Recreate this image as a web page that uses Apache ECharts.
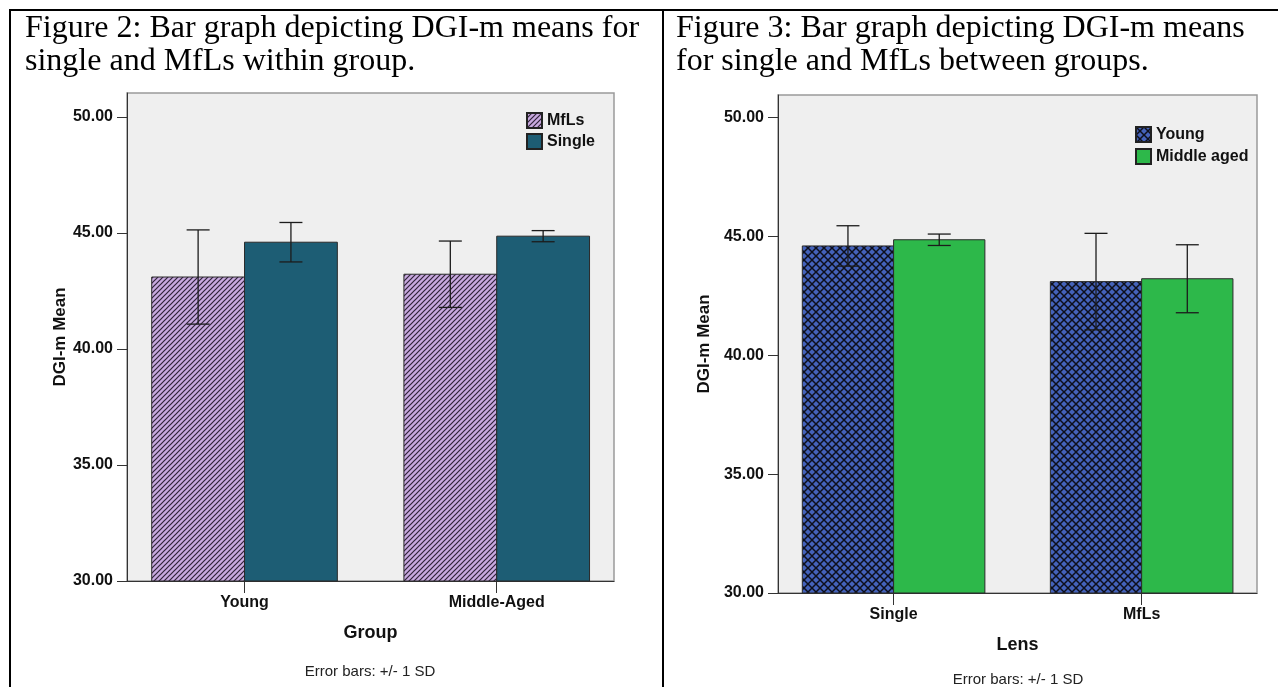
<!DOCTYPE html>
<html>
<head>
<meta charset="utf-8">
<script src="https://cdn.jsdelivr.net/npm/echarts@6/dist/echarts.min.js"></script>
<style>
  html, body { margin: 0; padding: 0; background: #ffffff; }
  #chart { width: 1278px; height: 687px; }
</style>
</head>
<body>
<div id="chart"></div>
<script>
// ---- Data: DGI-m means and standard deviations ----
// Figure 2: lens type within each age group
const groupCategories = ['Young', 'Middle-Aged'];
const mflsMeans   = [43.10, 43.22];
const mflsSD      = [2.03, 1.43];
const singleMeans = [44.60, 44.86];
const singleSD    = [0.85, 0.24];

// Figure 3: age group within each lens type
const lensCategories = ['Single', 'MfLs'];
const youngMeans  = [44.60, 43.10];
const youngSD     = [0.85, 2.03];
const middleMeans = [44.86, 43.22];
const middleSD    = [0.24, 1.43];

const yTicks = [30, 35, 40, 45, 50];
const Y_MIN = 30;

// ---- Fill patterns ----
function stripePattern() {
  const s = 5;
  const c = document.createElement('canvas');
  c.width = s; c.height = s;
  const g = c.getContext('2d');
  g.fillStyle = '#c8a9df';
  g.fillRect(0, 0, s, s);
  g.strokeStyle = '#2f2339';
  g.lineWidth = 1.2;
  g.beginPath();
  g.moveTo(-1, s + 1); g.lineTo(s + 1, -1);
  g.moveTo(-1, 1); g.lineTo(1, -1);
  g.moveTo(s - 1, s + 1); g.lineTo(s + 1, s - 1);
  g.stroke();
  return { image: c, repeat: 'repeat' };
}
function crossPattern() {
  const s = 8;
  const c = document.createElement('canvas');
  c.width = s; c.height = s;
  const g = c.getContext('2d');
  g.fillStyle = '#4462ba';
  g.fillRect(0, 0, s, s);
  g.strokeStyle = '#0d0f1c';
  g.lineWidth = 1.5;
  g.beginPath();
  g.moveTo(0, 0); g.lineTo(s, s);
  g.moveTo(0, s); g.lineTo(s, 0);
  g.stroke();
  return { image: c, repeat: 'repeat' };
}

const FILL_MFLS   = stripePattern();
const FILL_SINGLE = '#1d5d74';
const FILL_YOUNG  = crossPattern();
const FILL_MIDDLE = '#2db84a';

const BAR_FRAC = 0.368;   // width of one bar relative to the category step
const CAP_HALF = 11.5;    // half width of an error-bar cap, px
const FONT = '"Liberation Sans", Arial, sans-serif';

function rows(means, sds) {
  return means.map((m, i) => [i, m, sds[i]]);
}

function barRenderer(side, fill) {
  return function (params, api) {
    const c = api.value(0), v = api.value(1);
    const w = api.size([1, 0])[0] * BAR_FRAC;
    const top = api.coord([c, v]);
    const base = api.coord([c, Y_MIN]);
    const x = side < 0 ? top[0] - w : top[0];
    return {
      type: 'rect',
      shape: { x: x, y: top[1], width: w, height: base[1] - top[1] },
      style: { fill: fill, stroke: '#2a2a2a', lineWidth: 1 }
    };
  };
}

function errRenderer(side) {
  return function (params, api) {
    const c = api.value(0), m = api.value(1), sd = api.value(2);
    const w = api.size([1, 0])[0] * BAR_FRAC;
    const xc = api.coord([c, m])[0] + side * w / 2;
    const yTop = api.coord([c, m + sd])[1];
    const yBot = api.coord([c, m - sd])[1];
    const st = { stroke: '#1c1c1c', lineWidth: 1.3 };
    return {
      type: 'group',
      children: [
        { type: 'line', shape: { x1: xc, y1: yTop, x2: xc, y2: yBot }, style: st },
        { type: 'line', shape: { x1: xc - CAP_HALF, y1: yTop, x2: xc + CAP_HALF, y2: yTop }, style: st },
        { type: 'line', shape: { x1: xc - CAP_HALF, y1: yBot, x2: xc + CAP_HALF, y2: yBot }, style: st }
      ]
    };
  };
}

function barSeries(name, idx, side, fill, means, sds) {
  return {
    type: 'custom', name: name, xAxisIndex: idx, yAxisIndex: idx,
    itemStyle: { color: fill, borderColor: '#222', borderWidth: 1 },
    renderItem: barRenderer(side, fill),
    data: rows(means, sds), z: 2, silent: true
  };
}
function errSeries(name, idx, side, means, sds) {
  return {
    type: 'custom', name: name, xAxisIndex: idx, yAxisIndex: idx,
    renderItem: errRenderer(side),
    data: rows(means, sds), z: 5, silent: true
  };
}

function xAxisFor(idx, cats, title) {
  return {
    gridIndex: idx, type: 'value', min: -0.466, max: 1.465,
    axisLine: { show: true, onZero: false, lineStyle: { color: '#333', width: 1 } },
    axisTick: { show: true, customValues: [0, 1], length: 12, lineStyle: { color: '#333' } },
    axisLabel: {
      customValues: [0, 1], formatter: v => cats[v], margin: 14,
      fontFamily: FONT, fontWeight: 'bold', fontSize: 16, color: '#111'
    },
    splitLine: { show: false },
    name: title, nameLocation: 'middle', nameGap: 43,
    nameTextStyle: { fontFamily: FONT, fontWeight: 'bold', fontSize: 18, color: '#111' }
  };
}
function yAxisFor(idx, max, gap) {
  return {
    gridIndex: idx, type: 'value', min: Y_MIN, max: max, interval: 5,
    axisLine: { show: true, onZero: false, lineStyle: { color: '#333', width: 1 } },
    axisTick: { show: true, customValues: yTicks, length: 10, lineStyle: { color: '#333' } },
    axisLabel: {
      customValues: yTicks, formatter: v => v.toFixed(2), margin: 14,
      fontFamily: FONT, fontWeight: 'bold', fontSize: 16, color: '#111'
    },
    splitLine: { show: false },
    name: 'DGI-m Mean', nameLocation: 'middle', nameRotate: 90, nameGap: gap,
    nameTextStyle: { fontFamily: FONT, fontWeight: 'bold', fontSize: 17, color: '#111' }
  };
}

const gridStyle = { show: true, backgroundColor: '#efefef', borderColor: '#9a9a9a', borderWidth: 1.5 };

const captionFont = '32px "Liberation Serif", "Times New Roman", serif';

const option = {
  animation: false,
  backgroundColor: '#ffffff',
  grid: [
    Object.assign({ left: 127, top: 93, width: 487, height: 488 }, gridStyle),
    Object.assign({ left: 778, top: 95, width: 479, height: 498 }, gridStyle)
  ],
  xAxis: [
    xAxisFor(0, groupCategories, 'Group'),
    xAxisFor(1, lensCategories, 'Lens')
  ],
  yAxis: [
    yAxisFor(0, 51.03, 58),
    yAxisFor(1, 50.95, 65)
  ],
  legend: [
    {
      orient: 'vertical', left: 521, top: 107, itemWidth: 15, itemHeight: 15, itemGap: 4,
      icon: 'rect', selectedMode: false, data: ['MfLs', 'Single'],
      textStyle: { fontFamily: FONT, fontWeight: 'bold', fontSize: 16, color: '#111' }
    },
    {
      orient: 'vertical', left: 1130, top: 121, itemWidth: 15, itemHeight: 15, itemGap: 5,
      icon: 'rect', selectedMode: false, data: ['Young', 'Middle aged'],
      textStyle: { fontFamily: FONT, fontWeight: 'bold', fontSize: 16, color: '#111' }
    }
  ],
  series: [
    barSeries('MfLs', 0, -1, FILL_MFLS, mflsMeans, mflsSD),
    barSeries('Single', 0, 1, FILL_SINGLE, singleMeans, singleSD),
    errSeries('MfLs SD', 0, -1, mflsMeans, mflsSD),
    errSeries('Single SD', 0, 1, singleMeans, singleSD),
    barSeries('Young', 1, -1, FILL_YOUNG, youngMeans, youngSD),
    barSeries('Middle aged', 1, 1, FILL_MIDDLE, middleMeans, middleSD),
    errSeries('Young SD', 1, -1, youngMeans, youngSD),
    errSeries('Middle aged SD', 1, 1, middleMeans, middleSD)
  ],
  graphic: [
    // table rules
    { type: 'line', shape: { x1: 9, y1: 10, x2: 1278, y2: 10 }, style: { stroke: '#000', lineWidth: 2 }, silent: true },
    { type: 'line', shape: { x1: 10, y1: 9, x2: 10, y2: 687 }, style: { stroke: '#000', lineWidth: 2 }, silent: true },
    { type: 'line', shape: { x1: 663, y1: 9, x2: 663, y2: 687 }, style: { stroke: '#000', lineWidth: 2 }, silent: true },
    // captions
    {
      type: 'text', left: 25, top: 12, silent: true,
      style: { text: 'Figure 2: Bar graph depicting DGI-m means for\nsingle and MfLs within group.', font: captionFont, lineHeight: 33, fill: '#000' }
    },
    {
      type: 'text', left: 676, top: 12, silent: true,
      style: { text: 'Figure 3: Bar graph depicting DGI-m means\nfor single and MfLs between groups.', font: captionFont, lineHeight: 33, fill: '#000' }
    },
    // footnotes
    {
      type: 'text', x: 370, y: 672, silent: true,
      style: { text: 'Error bars: +/- 1 SD', font: '15px ' + FONT, fill: '#222', align: 'center', verticalAlign: 'middle' }
    },
    {
      type: 'text', x: 1018, y: 680, silent: true,
      style: { text: 'Error bars: +/- 1 SD', font: '15px ' + FONT, fill: '#222', align: 'center', verticalAlign: 'middle' }
    }
  ]
};

const chart = echarts.init(document.getElementById('chart'), null, { renderer: 'canvas' });
chart.setOption(option);
</script>
</body>
</html>
